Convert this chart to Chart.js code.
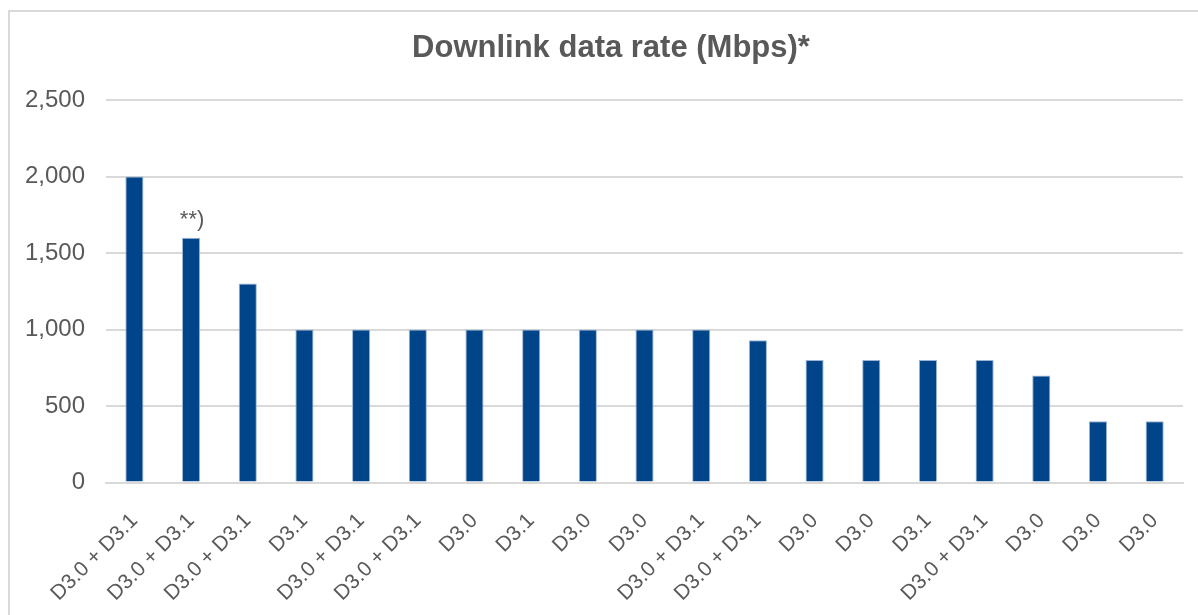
<!DOCTYPE html>
<html>
<head>
<meta charset="utf-8">
<script src="https://cdn.jsdelivr.net/npm/chart.js@4/dist/chart.umd.min.js"></script>
<style>
  html, body { margin: 0; background: #fff; overflow: hidden; }
  #frame {
    position: absolute; left: 8px; top: 10px; width: 1300px; height: 700px;
    border-left: 2px solid #d9d9d9; border-top: 2px solid #d9d9d9;
  }
  #chart { position: absolute; left: 0; top: 0; }
</style>
</head>
<body>
<div id="frame"></div>
<canvas id="chart" width="1198" height="626"></canvas>
<script>
var labels = ['D3.0 + D3.1', 'D3.0 + D3.1', 'D3.0 + D3.1', 'D3.1', 'D3.0 + D3.1', 'D3.0 + D3.1', 'D3.0',
    'D3.1', 'D3.0', 'D3.0', 'D3.0 + D3.1', 'D3.0 + D3.1', 'D3.0', 'D3.0', 'D3.1', 'D3.0 + D3.1',
    'D3.0', 'D3.0', 'D3.0'];
var rates = [2000, 1600, 1300, 1000, 1000, 1000, 1000, 1000, 1000, 1000, 1000, 930, 800, 800, 800, 800,
    700, 400, 400];
var notes = ['', '**)', '', '', '', '', '', '', '', '', '', '', '', '', '', '', '', '', ''];
var yTicks = [0, 500, 1000, 1500, 2000, 2500];
var titleText = 'Downlink data rate (Mbps)*';

var textColor = '#595959';
var barColor = '#00458a';
var fontFamily = 'Arial, "Liberation Sans", sans-serif';

// title drawn by hand so it can sit a bit right of the canvas centre, like the original
var titlePlugin = {
    id: 'sheetTitle',
    afterDraw: function(chart) {
        var ctx = chart.ctx;
        ctx.save();
        ctx.font = 'bold 31px ' + fontFamily;
        ctx.fillStyle = textColor;
        ctx.textAlign = 'center';
        ctx.textBaseline = 'middle';
        ctx.fillText(titleText, chart.width / 2 + 12, 48);
        ctx.restore();
    }
};

// footnote marks above bars
var notePlugin = {
    id: 'notes',
    afterDatasetsDraw: function(chart) {
        var ctx = chart.ctx;
        var meta = chart.getDatasetMeta(0);
        ctx.save();
        ctx.font = '22px ' + fontFamily;
        ctx.fillStyle = textColor;
        ctx.textAlign = 'center';
        ctx.textBaseline = 'alphabetic';
        notes.forEach(function(n, i) {
            if (!n) return;
            var bar = meta.data[i];
            ctx.fillText(n, bar.x + 1, bar.y - 12);
        });
        ctx.restore();
    }
};

var ctx = document.getElementById('chart').getContext('2d');
var chart = new Chart(ctx, {
    type: 'bar',
    data: {
        labels: labels,
        datasets: [{
            data: rates,
            backgroundColor: barColor,
            borderColor: '#9db4d2',
            borderWidth: 1,
            barPercentage: 0.32,
            categoryPercentage: 1
        }]
    },
    options: {
        responsive: false,
        animation: false,
        layout: { padding: { left: 4, right: 15, top: 100, bottom: 2 } },
        plugins: {
            legend: { display: false },
            tooltip: { enabled: false },
            title: { display: false }
        },
        scales: {
            x: {
                grid: { display: false },
                border: { color: '#d9d9d9', width: 2 },
                ticks: {
                    color: textColor,
                    font: { family: fontFamily, size: 21 },
                    maxRotation: 45,
                    minRotation: 45,
                    autoSkip: false,
                    padding: 18
                }
            },
            y: {
                min: 0,
                max: 2500,
                afterBuildTicks: function(axis) {
                    axis.ticks = yTicks.map(function(v) { return { value: v }; });
                },
                grid: { color: '#d9d9d9', lineWidth: 2, drawTicks: false },
                border: { display: false },
                ticks: {
                    color: textColor,
                    font: { family: fontFamily, size: 24 },
                    padding: 21,
                    callback: function(v) { return v.toLocaleString('en-US'); }
                }
            }
        }
    },
    plugins: [titlePlugin, notePlugin]
});
</script>
</body>
</html>
